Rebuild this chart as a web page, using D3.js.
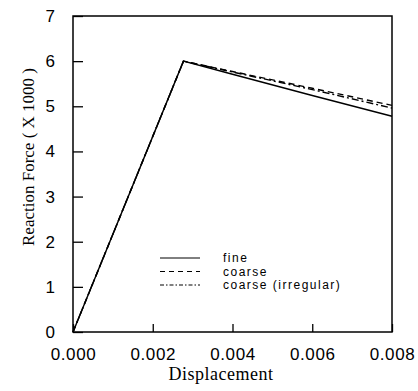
<!DOCTYPE html>
<html>
<head>
<meta charset="utf-8">
<script src="https://cdn.jsdelivr.net/npm/d3@7"></script>
<style>
  body { margin: 0; background: #fff; }
  svg { display: block; }
</style>
</head>
<body>
<div id="chart"></div>
<script>
// Data
const dispX = [0, 0.00265, 0.00277, 0.004, 0.006, 0.008];
const fineY = [0, 5.74, 6.0, 5.71, 5.24, 4.78];
const coarseY = [0, 5.74, 6.0, 5.77, 5.40, 5.02];
const irregularY = [0, 5.74, 6.0, 5.76, 5.37, 4.96];

const xTicks = [0, 0.002, 0.004, 0.006, 0.008];
const yTicks = [0, 1, 2, 3, 4, 5, 6, 7];

const seriesNames = ["fine", "coarse", "coarse  (irregular)"];
const seriesDash = ["none", "6,4", "7,3,2,3"];

const width = 418;
const height = 391;
const margin = { left: 73, right: 26, top: 16, bottom: 59 };

const svg = d3.select("#chart")
    .append("svg")
    .attr("width", width)
    .attr("height", height);

const x = d3.scaleLinear().domain([0, 0.008]).range([margin.left, width - margin.right]);
const y = d3.scaleLinear().domain([0, 7]).range([height - margin.bottom, margin.top]);

const sans = "'Liberation Sans', Arial, sans-serif";
const serif = "'Liberation Serif', 'Times New Roman', serif";

// Bottom axis with inward ticks
const xAxis = svg.append("g")
    .attr("transform", `translate(0,${y(0)})`)
    .call(d3.axisBottom(x).tickValues(xTicks).tickSizeInner(-8).tickSizeOuter(0).tickPadding(16)
        .tickFormat(d3.format(".3f")));
xAxis.select(".domain").remove();
xAxis.selectAll("line").attr("stroke", "#000").attr("stroke-width", 1.3);
xAxis.selectAll("text")
    .attr("font-family", sans)
    .attr("font-size", 17)
    .attr("letter-spacing", 0.6)
    .attr("fill", "#000");

// Left axis with inward ticks
const yAxis = svg.append("g")
    .attr("transform", `translate(${x(0)},0)`)
    .call(d3.axisLeft(y).tickValues(yTicks).tickSizeInner(-10).tickSizeOuter(0).tickPadding(18)
        .tickFormat(d3.format("d")));
yAxis.select(".domain").remove();
yAxis.selectAll("line").attr("stroke", "#000").attr("stroke-width", 1.3);
yAxis.selectAll("text")
    .attr("font-family", sans)
    .attr("font-size", 17)
    .attr("fill", "#000");

// Frame
svg.append("rect")
    .attr("x", x(0))
    .attr("y", y(7))
    .attr("width", x(0.008) - x(0))
    .attr("height", y(0) - y(7))
    .attr("fill", "none")
    .attr("stroke", "#000")
    .attr("stroke-width", 1.5);

// Curves
const line = d3.line()
    .x((d, i) => x(dispX[i]))
    .y(d => y(d));

[fineY, coarseY, irregularY].forEach((vals, i) => {
    svg.append("path")
        .attr("d", line(vals))
        .attr("fill", "none")
        .attr("stroke", "#000")
        .attr("stroke-width", 1.4)
        .attr("stroke-dasharray", seriesDash[i]);
});

// Legend
const legendY = [258, 271.5, 285];
seriesNames.forEach((name, i) => {
    svg.append("line")
        .attr("x1", 160).attr("x2", 200)
        .attr("y1", legendY[i]).attr("y2", legendY[i])
        .attr("stroke", "#000")
        .attr("stroke-width", 1)
        .attr("stroke-dasharray", seriesDash[i] === "none" ? null : (i === 1 ? "5,4" : "4,2,1.5,2"));
    svg.append("text")
        .attr("x", 223)
        .attr("y", legendY[i] + 4)
        .attr("font-family", sans)
        .attr("font-size", 12)
        .attr("letter-spacing", 1.5)
        .text(name);
});

// Axis titles
svg.append("text")
    .attr("x", 221)
    .attr("y", 380)
    .attr("text-anchor", "middle")
    .attr("font-family", serif)
    .attr("font-size", 18)
    .attr("letter-spacing", 0.5)
    .text("Displacement");

svg.append("text")
    .attr("transform", "translate(34,157) rotate(-90)")
    .attr("text-anchor", "middle")
    .attr("font-family", serif)
    .attr("font-size", 17)
    .text("Reaction Force ( X 1000 )");
</script>
</body>
</html>
